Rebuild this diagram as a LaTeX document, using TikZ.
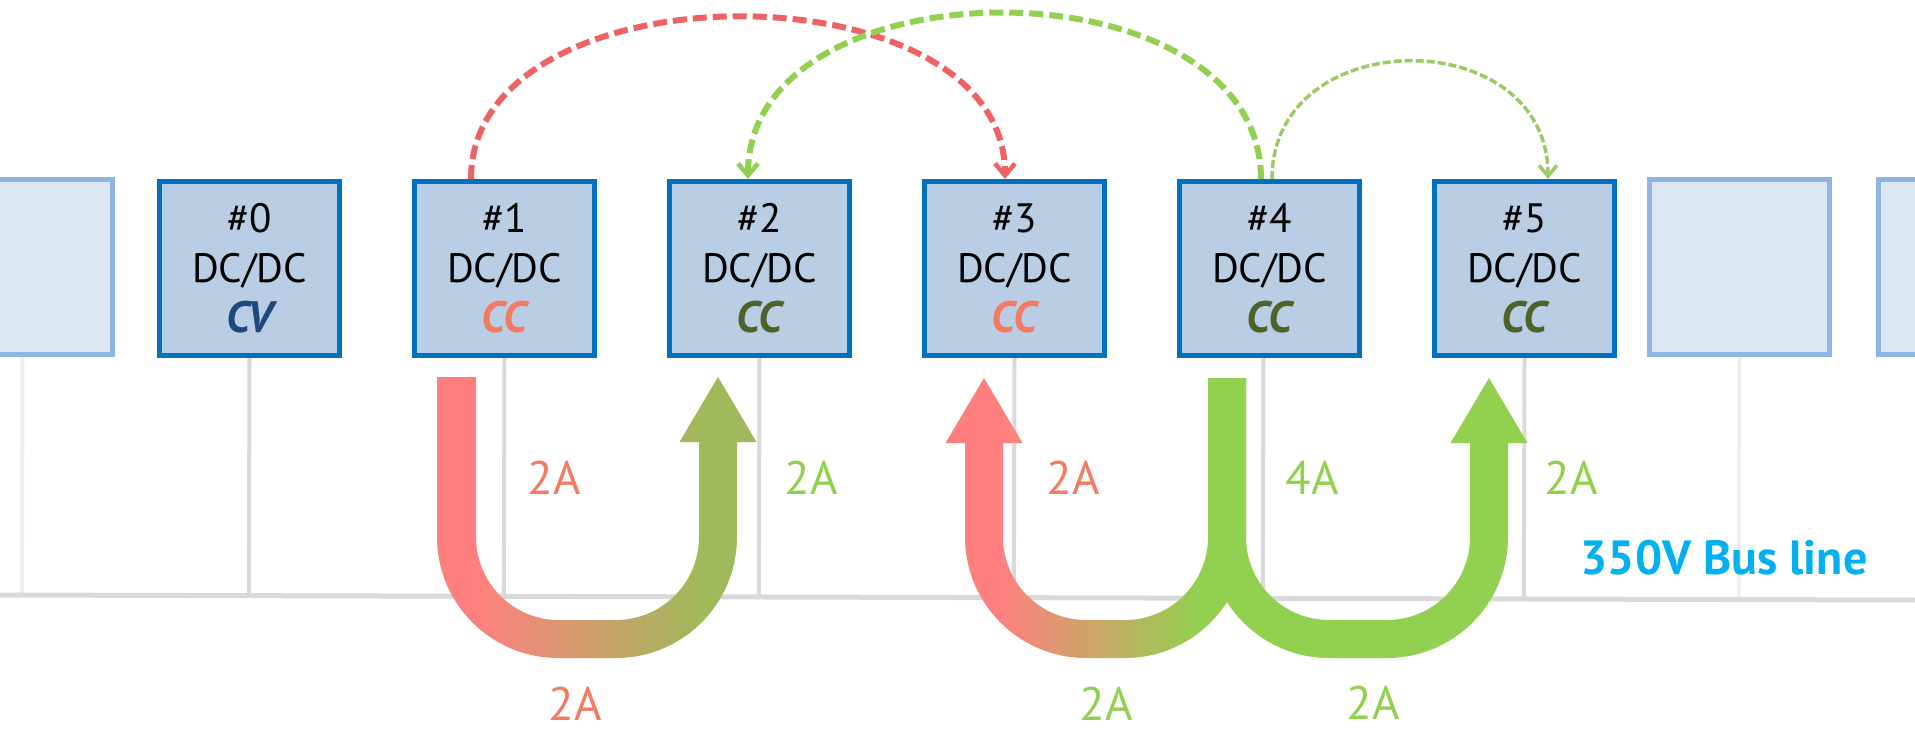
\documentclass[tikz,border=0pt]{standalone}
\usepackage{fontspec}
\setmainfont{PT Sans}
\usetikzlibrary{arrows.meta,calc}

\definecolor{boxfill}{HTML}{B9CDE5}
\definecolor{boxline}{HTML}{0070C0}
\definecolor{ghostfill}{HTML}{DCE6F2}
\definecolor{ghostline}{HTML}{8EB4E3}
\definecolor{wire}{HTML}{D9D9D9}
\definecolor{ghostwire}{HTML}{EEEEEE}
\definecolor{ccred}{HTML}{F27B62}
\definecolor{ccgreen}{HTML}{4F6228}
\definecolor{cvblue}{HTML}{1F497D}
\definecolor{flowpink}{HTML}{FF7F7F}
\definecolor{flowolive}{HTML}{A0B95A}
\definecolor{flowgreen}{HTML}{92D050}
\definecolor{dashred}{HTML}{EE6262}
\definecolor{dashgreen}{HTML}{92D050}
\definecolor{dashlight}{HTML}{9CCB66}
\definecolor{buscyan}{HTML}{00B0F0}

% current flow gradients: flat ends, blend in the middle
\pgfdeclarehorizontalshading{pinkolive}{100bp}{color(0bp)=(flowpink); color(25bp)=(flowpink); color(31bp)=(flowpink); color(66bp)=(flowolive); color(75bp)=(flowolive); color(100bp)=(flowolive)}
\pgfdeclarehorizontalshading{pinkgreen}{100bp}{color(0bp)=(flowpink); color(25bp)=(flowpink); color(34bp)=(flowpink); color(67bp)=(flowgreen); color(75bp)=(flowgreen); color(100bp)=(flowgreen)}

\newcommand\opmode[2]{{\fontsize{44}{50}\selectfont\bfseries\itshape\color{#1}#2}}

\begin{document}
\begin{tikzpicture}[x=1pt,y=-1pt,
  dcbox/.style={draw=boxline, fill=boxfill, line width=5pt, minimum width=180pt,
    minimum height=174pt, inner sep=0pt, align=center,
    font=\fontsize{41}{50}\selectfont},
  ghostbox/.style={draw=ghostline, fill=ghostfill, line width=4.5pt, minimum width=180pt,
    minimum height=175pt, inner sep=0pt},
  busline/.style={draw=wire, line width=5pt},
  tap/.style={draw=wire, line width=4pt},
  ghosttap/.style={draw=ghostwire, line width=4pt},
  amp/.style={inner sep=0pt, font=\fontsize{47}{47}\selectfont},
  sigred/.style={draw=dashred, line width=6pt, dash pattern=on 14pt off 6pt,
    -{Straight Barb[length=12pt,width=20pt,line width=4.5pt]}},
  siggreen/.style={draw=dashgreen, line width=6pt, dash pattern=on 14pt off 6pt,
    -{Straight Barb[length=12pt,width=20pt,line width=4.5pt]}},
  siglight/.style={draw=dashlight, line width=3.5pt, dash pattern=on 8pt off 3pt,
    -{Straight Barb[length=11pt,width=18pt,line width=3.5pt]}}
]
\useasboundingbox (0,0) rectangle (1915,731);
\clip (0,0) rectangle (1915,731);

% bus rail
\coordinate (busL) at (0,595);
\coordinate (busR) at (1915,600);

% converter modules
\node[ghostbox] (g0) at (22.5,267) {};
\node[dcbox] (n0) at (249.5,268.5) {\#0\\DC/DC\\\opmode{cvblue}{CV}};
\node[dcbox] (n1) at (504.5,268.5) {\#1\\DC/DC\\\opmode{ccred}{CC}};
\node[dcbox] (n2) at (759.5,268.5) {\#2\\DC/DC\\\opmode{ccgreen}{CC}};
\node[dcbox] (n3) at (1014.5,268.5) {\#3\\DC/DC\\\opmode{ccred}{CC}};
\node[dcbox] (n4) at (1269.5,268.5) {\#4\\DC/DC\\\opmode{ccgreen}{CC}};
\node[dcbox] (n5) at (1524.5,268.5) {\#5\\DC/DC\\\opmode{ccgreen}{CC}};
\node[ghostbox] (g1) at (1739.5,267) {};
\node[ghostbox] (g2) at (1968.5,267) {};

% taps down to the bus
\foreach \m in {g0,g1}
  \draw[ghosttap] (\m.south) -- ($(busL)!(\m.south)!(busR)$);
\foreach \m in {n0,n1,n2,n3,n5}
  \draw[tap] (\m.south) -- ($(busL)!(\m.south)!(busR)$);
\draw[tap] ([xshift=-6pt]n4.south) -- ($(busL)!([xshift=-6pt]n4.south)!(busR)$);
\draw[busline] (busL) -- (busR);

% current flow #1 -> #2
\shade[shading=pinkolive] (437,377) -- (437,537)
  .. controls (437,604.1) and (491.4,658) .. (558.5,658) -- (616,658)
  .. controls (682.8,658) and (737,603.8) .. (737,537) -- (737,442) -- (756.5,442)
  -- (718,377) -- (679.5,442) -- (699,442) -- (699,537)
  .. controls (699,582.8) and (661.8,620) .. (616,620) -- (558.5,620)
  .. controls (512.9,620) and (476,582.6) .. (476,537) -- (476,377) -- cycle;

% current flow #4 -> #3
\shade[shading=pinkgreen] (984,378) -- (1022.5,443) -- (1003,443) -- (1003,537)
  .. controls (1003,582.8) and (1040.2,620) .. (1086,620) -- (1125,620)
  .. controls (1170.8,620) and (1208,582.8) .. (1208,537) -- (1208,378) -- (1246,378)
  -- (1246,537) .. controls (1246,603.8) and (1191.8,658) .. (1125,658) -- (1086,658)
  .. controls (1019.2,658) and (965,603.8) .. (965,537) -- (965,443) -- (945.5,443) -- cycle;

% current flow #4 -> #5
\fill[flowgreen] (1208,378) -- (1246,378) -- (1246,537)
  .. controls (1246,582.8) and (1283.2,620) .. (1329,620) -- (1387,620)
  .. controls (1432.8,620) and (1470,582.8) .. (1470,537) -- (1470,443) -- (1450.5,443)
  -- (1489,378) -- (1527.5,443) -- (1508,443) -- (1508,537)
  .. controls (1508,603.8) and (1453.8,658) .. (1387,658) -- (1329,658)
  .. controls (1262.2,658) and (1208,603.8) .. (1208,537) -- cycle;

% current labels
\node[amp, text=ccred] (a1) at (554,478) {2A};
\node[amp, text=flowgreen] (a2) at (811,478) {2A};
\node[amp, text=ccred] (a3) at (575,704) {2A};
\node[amp, text=ccred] (a4) at (1073,478) {2A};
\node[amp, text=flowgreen] (a5) at (1312,478) {4A};
\node[amp, text=flowgreen] (a6) at (1571,478) {2A};
\node[amp, text=flowgreen] (a7) at (1106,704) {2A};
\node[amp, text=flowgreen] (a8) at (1373,703) {2A};

\node[inner sep=0pt, text=buscyan, font=\fontsize{48}{48}\selectfont\bfseries] (bus) at (1724,557.5) {350V Bus line};

% control links between modules
\draw[sigred] ([xshift=-33.5pt]n1.north) .. controls +(0,-216) and +(0,-216) .. ([xshift=-9.5pt]n3.north);
\draw[siggreen] ([xshift=-8.5pt]n4.north) .. controls +(0,-221) and +(0,-221) .. ([xshift=-11.5pt]n2.north);
\draw[siglight] ([xshift=2.5pt]n4.north) .. controls +(0,-157) and +(0,-157) .. ([xshift=23.5pt]n5.north);
\end{tikzpicture}
\end{document}
